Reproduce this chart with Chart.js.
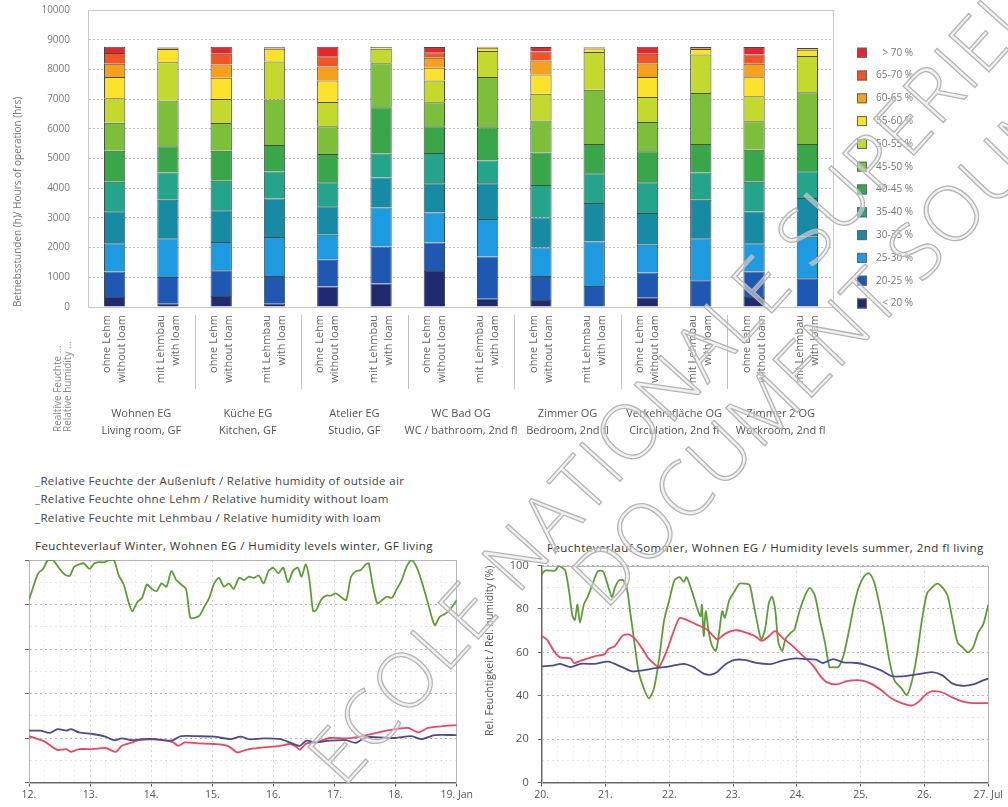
<!DOCTYPE html>
<html>
<head>
<meta charset="utf-8">
<title>Relative Feuchte / Relative humidity</title>
<script src="https://cdn.jsdelivr.net/npm/chart.js@4.4.0/dist/chart.umd.min.js"></script>
<style>
  html, body { margin: 0; padding: 0; background: #fff; }
  body { position: relative; width: 1008px; height: 807px; overflow: hidden; font-family: "Open Sans", sans-serif; }
  canvas { position: absolute; }
  #hoursChart { left: 0; top: 0; }
  #winterChart { left: 0; top: 550px; }
  #summerChart { left: 475px; top: 550px; }
  .note { position: absolute; left: 35px; font-size: 11.5px; color: #444; white-space: nowrap; letter-spacing: 0.35px; }
  .title { position: absolute; font-size: 11.5px; color: #333; white-space: nowrap; letter-spacing: 0.45px; }
  .wm { position: absolute; transform-origin: 0 100%; font-size: 76px; line-height: 1; font-weight: 300;
        letter-spacing: 2px; white-space: nowrap; color: rgba(232,232,232,0.55);
        -webkit-text-stroke: 1.3px #b5b5b5; pointer-events: none; }
</style>
</head>
<body>
<canvas id="hoursChart" width="1008" height="445"></canvas>

<div class="note" style="top:473px"><span style="color:#5d9e35">_</span>Relative Feuchte der Außenluft / Relative humidity of outside air</div>
<div class="note" style="top:491px"><span style="color:#e0364f">_</span>Relative Feuchte ohne Lehm / Relative humidity without loam</div>
<div class="note" style="top:510px"><span style="color:#333">_</span>Relative Feuchte mit Lehmbau / Relative humidity with loam</div>
<div class="title" style="left:35px; top:538px">Feuchteverlauf Winter, Wohnen EG / Humidity levels winter, GF living</div>
<div class="title" style="left:547px; top:540px">Feuchteverlauf Sommer, Wohnen EG / Humidity levels summer, 2nd fl living</div>

<canvas id="winterChart" width="475" height="257"></canvas>
<canvas id="summerChart" width="533" height="257"></canvas>

<div class="wm" style="left:350px; top:719px; transform: rotate(-48deg)">ECOLE NATIONALE SUPERIEURE</div>
<div class="wm" style="left:612px; top:541px; transform: rotate(-46deg)">DOCUMENT SOUMIS</div>

<script>
// ---- operating hours per humidity band (stacked bars) ----
const categories = [
    ['ohne Lehm', 'without loam'], ['mit Lehmbau', 'with loam'],
    ['ohne Lehm', 'without loam'], ['mit Lehmbau', 'with loam'],
    ['ohne Lehm', 'without loam'], ['mit Lehmbau', 'with loam'],
    ['ohne Lehm', 'without loam'], ['mit Lehmbau', 'with loam'],
    ['ohne Lehm', 'without loam'], ['mit Lehmbau', 'with loam'],
    ['ohne Lehm', 'without loam'], ['mit Lehmbau', 'with loam'],
    ['ohne Lehm', 'without loam'], ['mit Lehmbau', 'with loam']
];
const rooms = [
    ['Wohnen EG', 'Living room, GF'],
    ['Küche EG', 'Kitchen, GF'],
    ['Atelier EG', 'Studio, GF'],
    ['WC Bad OG', 'WC / bathroom, 2nd fl'],
    ['Zimmer OG', 'Bedroom, 2nd fl'],
    ['Verkehrsfläche OG', 'Circulation, 2nd fl'],
    ['Zimmer 2 OG', 'Workroom, 2nd fl']
];
const bandLabels = ['< 20 %', '20-25 %', '25-30 %', '30-35 %', '35-40 %', '40-45 %',
                    '45-50 %', '50-55 %', '55-60 %', '60-65 %', '65-70 %', '> 70 %'];

const hoursBelow20 = [340, 110, 370, 110, 690, 790, 1215, 280, 236, 20, 315, 0, 337, 0];
const hours20to25  = [855, 900, 865, 935, 900, 1245, 955, 1420, 810, 690, 845, 900, 855, 967];
const hours25to30  = [955, 1305, 955, 1315, 845, 1315, 1010, 1260, 955, 1495, 935, 1415, 955, 1395];
const hours30to35  = [1070, 1295, 1070, 1295, 955, 1010, 990, 1205, 1015, 1295, 1070, 1295, 1070, 1305];
const hours35to40  = [1000, 920, 990, 910, 810, 810, 1015, 765, 1090, 1000, 1035, 920, 1000, 900];
const hours40to45  = [1045, 880, 1010, 890, 955, 1555, 900, 1125, 1100, 990, 1045, 955, 1080, 920];
const hours45to50  = [935, 1540, 935, 1530, 935, 1485, 810, 1685, 1070, 1825, 980, 1720, 955, 1745];
const hours50to55  = [830, 1290, 810, 1285, 810, 485, 730, 880, 900, 1270, 845, 1295, 845, 1215];
const hours55to60  = [710, 450, 710, 425, 730, 60, 430, 110, 650, 120, 675, 190, 640, 215];
const hours60to65  = [450, 50, 450, 55, 470, 10, 335, 30, 470, 40, 450, 65, 450, 55];
const hours65to70  = [360, 10, 360, 10, 340, 0, 190, 0, 305, 0, 335, 0, 315, 0];
const hoursAbove70 = [210, 0, 235, 0, 325, 0, 175, 0, 155, 0, 235, 0, 255, 0];

const yTicks = [0, 1000, 2000, 3000, 4000, 5000, 6000, 7000, 8000, 9000, 10000];

// ---- humidity curves: day of month / relative humidity in % ----
const winterOutsideDay = [12.00, 12.07, 12.15, 12.23, 12.31, 12.39, 12.45, 12.53, 12.61, 12.67, 12.74, 12.82, 12.90, 12.99,
    13.07, 13.15, 13.23, 13.31, 13.39, 13.47, 13.55, 13.63, 13.69, 13.77, 13.85, 13.93, 14.01, 14.09, 14.17, 14.25,
    14.33, 14.41, 14.49, 14.57, 14.64, 14.71, 14.79, 14.87, 14.95, 15.03, 15.11, 15.19, 15.27, 15.35, 15.44, 15.52,
    15.60, 15.68, 15.76, 15.84, 15.92, 16.00, 16.08, 16.16, 16.24, 16.32, 16.40, 16.46, 16.53, 16.59, 16.65, 16.70,
    16.78, 16.86, 16.94, 17.02, 17.10, 17.19, 17.27, 17.35, 17.43, 17.51, 17.56, 17.62, 17.70, 17.78, 17.86, 17.94,
    18.02, 18.10, 18.18, 18.26, 18.34, 18.42, 18.53, 18.64, 18.72, 18.80, 18.88, 19.00];
const winterOutsideRH = [82, 88, 94, 96, 100, 100, 98, 95, 93, 93, 97, 98, 98.5, 96,
    98.5, 99, 99, 100, 100, 93, 89, 81, 77, 81, 83, 89, 87, 86, 89.5, 88,
    95, 91, 89, 87, 74, 74, 75, 79, 83, 89.5, 92, 88, 89.5, 87, 92, 91,
    92.5, 92, 93, 89.5, 95, 96.5, 94, 96.5, 90, 95, 96.5, 92.5, 98, 91, 77, 77.5,
    82, 84, 84, 85, 83.5, 82, 92.5, 95, 95.5, 98, 98.5, 89.5, 80.5, 82, 83.5, 83,
    87, 91, 97, 100, 97, 91, 80.5, 70.7, 74.4, 75.6, 77.4, 82];

const winterNoLoamDay = [12.00, 12.25, 12.39, 12.47, 12.61, 12.69, 12.82, 13.04, 13.25, 13.42, 13.52, 13.69, 13.79,
    14.01, 14.22, 14.36, 14.44, 14.55, 14.76, 15.03, 15.25, 15.41, 15.54, 15.68, 15.84, 16.11, 16.27, 16.36, 16.43,
    16.54, 16.70, 16.92, 17.19, 17.35, 17.56, 17.89, 18.21, 18.37, 18.53, 18.75, 19.00];
const winterNoLoamRH = [20.8, 18.5, 15.8, 14.6, 15, 13.8, 15, 15, 15.5, 13.8, 16.5, 18, 19,
    19.4, 19, 18, 16.5, 18, 17.6, 17.3, 16.5, 13.5, 14.6, 15.3, 15.8, 16.5, 17.3, 16.3, 14.8,
    17.6, 18, 20, 19.8, 20.3, 21.5, 23.5, 24.5, 22.5, 24.5, 25.2, 25.8];

const winterLoamDay = [12.00, 12.18, 12.34, 12.47, 12.61, 12.69, 12.82, 13.04, 13.25, 13.39, 13.52, 13.69, 13.85,
    14.06, 14.33, 14.49, 14.76, 15.03, 15.30, 15.46, 15.62, 15.84, 16.11, 16.27, 16.43, 16.54, 16.70, 16.92,
    17.19, 17.35, 17.51, 17.72, 17.99, 18.26, 18.42, 18.64, 19.00];
const winterLoamRH = [23.3, 23.3, 22.3, 24, 23.3, 24, 22.5, 21.8, 20.6, 19, 19.8, 19, 19.5,
    19.5, 18.8, 20.8, 20.8, 20.6, 19.5, 20.6, 19.4, 19.8, 19.5, 18, 16.5, 18.8, 18, 18.8,
    19, 17.8, 20.3, 20.3, 20, 20.8, 19.5, 21.3, 21.3];

const summerOutsideDay = [20.00, 20.05, 20.13, 20.21, 20.27, 20.32, 20.37, 20.43, 20.48, 20.52, 20.56, 20.60, 20.66,
    20.72, 20.80, 20.88, 20.96, 21.03, 21.10, 21.15, 21.21, 21.28, 21.34, 21.39, 21.46, 21.52, 21.60, 21.68, 21.76,
    21.84, 21.92, 22.00, 22.08, 22.16, 22.23, 22.27, 22.35, 22.43, 22.49, 22.51, 22.54, 22.57, 22.62, 22.67, 22.73,
    22.78, 22.83, 22.87, 22.94, 23.02, 23.10, 23.18, 23.26, 23.31, 23.37, 23.44, 23.50, 23.56, 23.61, 23.66, 23.71,
    23.77, 23.82, 23.90, 23.96, 24.04, 24.12, 24.20, 24.28, 24.36, 24.44, 24.51, 24.57, 24.65, 24.73, 24.81, 24.89,
    24.97, 25.05, 25.13, 25.21, 25.29, 25.37, 25.45, 25.53, 25.64, 25.72, 25.80, 25.88, 25.96, 26.04, 26.12, 26.20,
    26.28, 26.36, 26.44, 26.52, 26.60, 26.68, 26.76, 26.84, 26.92, 27.00];
const summerOutsideRH = [96, 97.7, 97.7, 97.7, 100, 99, 97.7, 88, 77, 75, 82, 73.6, 82,
    85.6, 91.7, 97.4, 97.4, 91.7, 85.6, 90, 93.2, 93.2, 88.7, 78, 63, 51, 43.4, 38.8, 43.4,
    57, 75, 84, 93.2, 94.7, 92.5, 94.7, 88.7, 81, 76.6, 82, 67.5, 79, 69, 63, 60.7,
    69, 79, 76, 84, 88, 91.7, 91.7, 91, 84, 75, 66, 70.5, 82.6, 85.6, 79.6, 64.5,
    60.7, 66, 69, 70.5, 79, 85.6, 89.7, 86.3, 75, 64.5, 53.2, 53.2, 53.2, 58.5, 69, 81,
    90, 95, 96.5, 92.4, 82.6, 70.5, 56.2, 47, 43.4, 40.3, 46.4, 58.5, 75, 87.2, 90, 91.7,
    90, 86.3, 75, 64.5, 62.2, 60, 62.2, 69, 72.8, 82];

const summerNoLoamDay = [20.00, 20.08, 20.19, 20.29, 20.45, 20.51, 20.61, 20.72, 20.83, 20.99, 21.04, 21.15, 21.26,
    21.36, 21.47, 21.58, 21.68, 21.79, 21.84, 21.95, 22.06, 22.16, 22.27, 22.43, 22.59, 22.75, 22.86, 22.97, 23.07,
    23.18, 23.34, 23.45, 23.55, 23.66, 23.77, 23.93, 24.09, 24.25, 24.36, 24.46, 24.62, 24.78, 25.00, 25.16, 25.32,
    25.48, 25.64, 25.80, 25.91, 26.01, 26.12, 26.28, 26.44, 26.60, 26.76, 27.00];
const summerNoLoamRH = [67.5, 66, 60.7, 57.7, 57.2, 55, 56.2, 57.2, 58.2, 59.2, 61.5, 63, 67.5,
    68.3, 66, 61.5, 57, 54, 53.2, 60, 69, 75.8, 75, 72.8, 70.5, 66, 68.3, 69.8, 70.2,
    69.3, 67.5, 65.3, 67.2, 69.8, 66.8, 63, 58.5, 54, 49.4, 46.4, 45.2, 46.7, 47.1, 45.6, 42.6,
    38.8, 36.6, 35.5, 37.3, 40.3, 42.1, 41.5, 39.1, 37.3, 36.6, 36.6];

const summerLoamDay = [20.00, 20.19, 20.29, 20.45, 20.61, 20.83, 21.04, 21.26, 21.42, 21.58, 21.79, 22.00, 22.22,
    22.38, 22.54, 22.65, 22.75, 22.86, 23.02, 23.18, 23.39, 23.61, 23.77, 23.98, 24.14, 24.30, 24.41, 24.57, 24.73,
    24.94, 25.10, 25.32, 25.48, 25.64, 25.85, 26.12, 26.28, 26.44, 26.60, 26.76, 26.92, 27.00];
const summerLoamRH = [53.5, 54, 54.7, 53.2, 54.7, 54.7, 55.7, 53.2, 51.2, 51.7, 52.7, 53.5, 54.7,
    53.2, 50.2, 49.7, 50.9, 54, 56.5, 56.5, 55, 54.7, 56.2, 57.2, 56.9, 56.6, 55.1, 56.9, 55.4,
    55.1, 54, 51.7, 49.1, 48.9, 49.7, 50.9, 49.4, 45.6, 44.6, 45.2, 47.1, 47.9];

Chart.defaults.font.family = '"Open Sans", sans-serif';
Chart.defaults.animation = false;

const bandColors = ['#1f2a70', '#1f58b2', '#1e9ae0', '#178ba3', '#25a48c', '#39a64a',
                    '#7cbf3a', '#c4d92e', '#fde22b', '#f6a11e', '#ef5624', '#e6262c'];
const bandSeries = [hoursBelow20, hours20to25, hours25to30, hours30to35, hours35to40, hours40to45,
                    hours45to50, hours50to55, hours55to60, hours60to65, hours65to70, hoursAbove70];

function toPoints(days, values) {
    return days.map((d, i) => ({ x: d, y: values[i] }));
}

// thin frame round the plot area
const framePlugin = {
    id: 'frame',
    beforeDatasetsDraw(chart, args, opts) {
        const { ctx, chartArea: a } = chart;
        ctx.save();
        ctx.strokeStyle = opts.color || '#c8c8c8';
        ctx.lineWidth = 1;
        ctx.strokeRect(Math.round(a.left) + 0.5, Math.round(a.top) + 0.5, Math.round(a.width) - 1, Math.round(a.height));
        ctx.restore();
    }
};

// legend column, separators between rooms and the side caption of the category labels
const hoursExtras = {
    id: 'hoursExtras',
    afterDraw(chart) {
        const { ctx, chartArea: a } = chart;
        const x = chart.scales.x;
        ctx.save();

        ctx.strokeStyle = '#c0c0c0';
        ctx.lineWidth = 1;
        for (let g = 1; g < rooms.length; g++) {
            const px = Math.round((x.getPixelForValue(2 * g - 1) + x.getPixelForValue(2 * g)) / 2) + 0.5;
            ctx.beginPath();
            ctx.moveTo(px, a.bottom + 8);
            ctx.lineTo(px, a.bottom + 82);
            ctx.stroke();
        }

        ctx.fillStyle = '#888';
        ctx.font = '10px "Open Sans", sans-serif';
        ctx.textAlign = 'left';
        ctx.textBaseline = 'middle';
        [['Realtive Feuchte ...', a.left - 30], ['Relative humidity ...', a.left - 20]].forEach(([t, px]) => {
            ctx.save();
            ctx.translate(px, a.bottom + 125);
            ctx.rotate(-Math.PI / 2);
            ctx.fillText(t, 0, 0);
            ctx.restore();
        });

        ctx.textAlign = 'right';
        const sets = chart.data.datasets.slice().reverse();
        sets.forEach((ds, i) => {
            const cy = a.top + 42.7 + i * 22.8;
            const sx = a.right + 23;
            ctx.fillStyle = ds.backgroundColor;
            ctx.fillRect(sx, cy - 5, 10, 10);
            ctx.strokeStyle = '#666';
            ctx.strokeRect(sx + 0.5, cy - 4.5, 9, 9);
            ctx.fillStyle = '#777';
            ctx.fillText(ds.label, a.right + 79, cy);
        });
        ctx.restore();
    }
};

new Chart(document.getElementById('hoursChart'), {
    type: 'bar',
    data: {
        labels: categories,
        datasets: bandSeries.map((values, i) => ({
            label: bandLabels[i],
            data: values,
            backgroundColor: bandColors[i],
            borderColor: 'rgba(35,45,40,0.85)',
            borderWidth: 1,
            barPercentage: 0.4,
            categoryPercentage: 1
        }))
    },
    options: {
        responsive: false,
        layout: { padding: { top: 10, right: 174, left: 0, bottom: 0 } },
        plugins: { legend: { display: false }, tooltip: { enabled: false }, frame: { color: '#c8c8c8' } },
        scales: {
            x: {
                stacked: true,
                grid: { display: false, drawTicks: false },
                border: { color: '#9a9a9a' },
                ticks: { minRotation: 90, maxRotation: 90, autoSkip: false, padding: 8, labelOffset: -7.5, color: '#666',
                         font: { size: 11, lineHeight: 1.36 } },
                afterFit: s => { s.height = 95; s.paddingLeft = 0; s.paddingRight = 0; }
            },
            x2: {
                type: 'category',
                labels: rooms,
                offset: true,
                position: 'bottom',
                grid: { display: false, drawTicks: false },
                border: { display: false },
                ticks: { minRotation: 0, maxRotation: 0, autoSkip: false, padding: 3, color: '#555',
                         font: { size: 11, lineHeight: 1.55 } },
                afterFit: s => { s.height = 43; s.paddingLeft = 0; s.paddingRight = 0; }
            },
            y: {
                stacked: true,
                min: 0,
                max: 10000,
                afterBuildTicks: s => { s.ticks = yTicks.map(v => ({ value: v })); },
                ticks: { padding: 18, color: '#777', font: { size: 10 }, callback: v => String(v) },
                grid: { drawTicks: false, color: c => (c.tick && c.tick.value === 10000) ? 'rgba(0,0,0,0)' : '#bdbdbd' },
                border: { color: '#c8c8c8', dash: [2, 2] },
                title: { display: true, text: 'Betriebsstunden (h)/ Hours of operation (hrs)', align: 'start',
                         color: '#777', font: { size: 10 }, padding: { top: 12, bottom: 0 } },
                afterFit: s => { s.width = 88; s.paddingTop = 0; s.paddingBottom = 0; }
            }
        }
    },
    plugins: [framePlugin, hoursExtras]
});

// ---- humidity curves ----
function isWhole(v) { return Math.abs(v - Math.round(v)) < 1e-6; }

function humidityOptions(first, last, lastLabel, showY, yWidth, rightPad) {
    return {
        responsive: false,
        layout: { padding: { top: 10, right: rightPad, left: 0, bottom: 0 } },
        plugins: { legend: { display: false }, tooltip: { enabled: false }, frame: { color: '#b5b5b5' } },
        elements: { point: { radius: 0 }, line: { tension: 0.25, borderWidth: 1.8 } },
        scales: {
            x: {
                type: 'linear',
                min: first,
                max: last,
                ticks: {
                    stepSize: 0.25,
                    autoSkip: false,
                    maxRotation: 0,
                    padding: 2,
                    color: '#555',
                    font: { size: 10.5 },
                    callback: v => isWhole(v) ? (Math.round(v) === last ? lastLabel : Math.round(v) + '.') : ''
                },
                grid: {
                    color: c => isWhole(c.tick.value) ? 'rgba(0,0,0,0.16)' : 'rgba(0,0,0,0.06)',
                    tickLength: 4,
                    tickColor: c => isWhole(c.tick.value) ? '#555' : 'rgba(0,0,0,0)'
                },
                border: { color: '#666', dash: [2, 3] },
                afterFit: s => { s.height = 24.5; }
            },
            y: {
                min: 0,
                max: 100,
                ticks: {
                    display: showY,
                    stepSize: 10,
                    padding: 9,
                    color: '#555',
                    font: { size: 11 },
                    callback: v => v % 20 === 0 ? v : ''
                },
                grid: {
                    color: c => c.tick.value % 20 === 0 ? 'rgba(0,0,0,0.28)' : 'rgba(0,0,0,0.1)',
                    tickLength: 4,
                    tickColor: c => c.tick.value % 20 === 0 ? '#666' : 'rgba(0,0,0,0)'
                },
                border: { color: '#666', dash: [2, 3] },
                title: { display: showY, text: 'Rel. Feuchtigkeit / Rel. humidity (%)', align: 'end',
                         color: '#555', font: { size: 10.5 }, padding: { top: 9, bottom: 0 } },
                afterFit: s => { s.width = yWidth; }
            }
        }
    };
}

function humidityData(outsideDay, outsideRH, noLoamDay, noLoamRH, loamDay, loamRH) {
    return {
        datasets: [
            { label: 'Relative Feuchte mit Lehmbau', data: toPoints(loamDay, loamRH), borderColor: '#4c4c8c' },
            { label: 'Relative Feuchte ohne Lehm', data: toPoints(noLoamDay, noLoamRH), borderColor: '#e84860' },
            { label: 'Relative Feuchte der Außenluft', data: toPoints(outsideDay, outsideRH), borderColor: '#5f9c38' }
        ]
    };
}

new Chart(document.getElementById('winterChart'), {
    type: 'line',
    data: humidityData(winterOutsideDay, winterOutsideRH, winterNoLoamDay, winterNoLoamRH, winterLoamDay, winterLoamRH),
    options: humidityOptions(12, 19, '19. Jan', false, 29, 13),
    plugins: [framePlugin]
});

new Chart(document.getElementById('summerChart'), {
    type: 'line',
    data: humidityData(summerOutsideDay, summerOutsideRH, summerNoLoamDay, summerNoLoamRH, summerLoamDay, summerLoamRH),
    options: humidityOptions(20, 27, '27. Jul', true, 66.7, 19.7),
    plugins: [framePlugin]
});
</script>
</body>
</html>
